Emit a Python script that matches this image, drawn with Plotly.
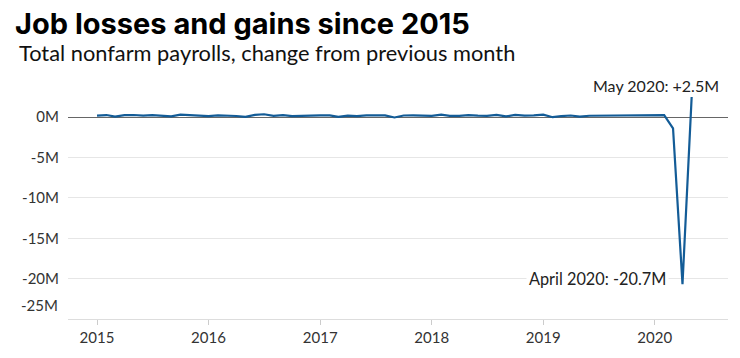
import plotly.graph_objects as go
import pandas as pd

# Monthly change in total nonfarm payrolls (millions), Jan 2015 - May 2020
months = pd.date_range("2015-01-01", "2020-05-01", freq="MS")
change_millions = [
    # 2015
    0.190, 0.271, 0.070, 0.251, 0.273, 0.206, 0.254, 0.157, 0.100, 0.321, 0.272, 0.239,
    # 2016
    0.126, 0.237, 0.225, 0.153, 0.043, 0.297, 0.365, 0.176, 0.249, 0.124, 0.164, 0.155,
    # 2017
    0.216, 0.232, 0.050, 0.207, 0.145, 0.239, 0.190, 0.221, -0.033, 0.211, 0.216, 0.175,
    # 2018
    0.176, 0.324, 0.155, 0.175, 0.268, 0.208, 0.178, 0.286, 0.108, 0.277, 0.196, 0.227,
    # 2019
    0.312, 0.001, 0.147, 0.210, 0.085, 0.182, 0.194, 0.207, 0.208, 0.185, 0.261, 0.184,
    # 2020
    0.214, 0.251, -1.373, -20.687, 2.509,
]

year_ticks = ["2015-01-01", "2016-01-01", "2017-01-01", "2018-01-01", "2019-01-01", "2020-01-01"]
year_labels = ["2015", "2016", "2017", "2018", "2019", "2020"]
y_ticks = [0, -5, -10, -15, -20]
y_labels = ["0M", "-5M", "-10M", "-15M", "-20M"]

title_text = "Job losses and gains since 2015"
subtitle_text = "Total nonfarm payrolls, change from previous month"
may_label = "May 2020: +2.5M"
april_label = "April 2020: -20.7M"

FONT = "Lato, 'Open Sans', sans-serif"
TITLE_FONT = "Inter, Lato, sans-serif"
LINE = "#135c97"

fig = go.Figure()
fig.add_trace(go.Scatter(
    x=months, y=change_millions, mode="lines",
    line=dict(color=LINE, width=2.2), hoverinfo="skip",
))

# page body has an 8px margin, so the figure is sized to fit inside it
OFF = 8
W, H = 740 - OFF, 358 - OFF
L, R, T, B = 68 - OFF, 12, 93 - OFF, 39
pw, ph = W - L - R, H - T - B

fig.update_layout(
    width=W, height=H,
    margin=dict(l=L, r=R, t=T, b=B),
    paper_bgcolor="white", plot_bgcolor="white",
    showlegend=False,
    font=dict(family=FONT, size=15, color="#333"),
    title=dict(
        text="<b>" + title_text + "</b>",
        font=dict(family=TITLE_FONT, size=29, color="#000"),
        xref="container", yref="container",
        x=(15 - OFF) / W, xanchor="left",
        y=1 - (24 - OFF) / H, yanchor="middle",
    ),
)

fig.update_xaxes(
    type="date",
    range=["2014-09-28", "2020-08-28"],
    tickvals=year_ticks, ticktext=year_labels,
    showgrid=False, zeroline=False,
    showline=True, linecolor="#dddddd", linewidth=1,
    ticks="outside", ticklen=5, tickcolor="#cccccc",
    tickfont=dict(size=15, color="#333"),
)
fig.update_yaxes(
    range=[-25, 3],
    tickvals=y_ticks, ticktext=y_labels,
    showgrid=True, gridcolor="#e6e6e6", gridwidth=1,
    zeroline=True, zerolinecolor="#666666", zerolinewidth=1,
    showline=False, ticks="", ticklabelstandoff=8,
    tickfont=dict(size=15, color="#333"),
)

# subtitle
fig.add_annotation(
    xref="paper", yref="paper",
    x=(17 - 68) / pw, y=(319 - 53) / ph,
    text=subtitle_text, showarrow=False,
    xanchor="left", yanchor="middle",
    font=dict(family=FONT, size=21.8, color="#111"),
)
# -25M tick label (sits just above the bottom axis line)
fig.add_annotation(
    xref="paper", yref="y", x=0, y=-25, yshift=14, xshift=-8,
    text="-25M", showarrow=False, xanchor="right", yanchor="middle",
    font=dict(size=15, color="#333"),
)
# data labels
fig.add_annotation(
    x=months[-1], y=change_millions[-1], text=may_label, showarrow=False,
    xanchor="right", yanchor="middle", xshift=29, yshift=11,
    font=dict(size=16, color="#222"),
)
fig.add_annotation(
    x=months[-2], y=-20, text=april_label, showarrow=False,
    xanchor="right", yanchor="middle", xshift=-13,
    bgcolor="white", borderpad=2,
    font=dict(size=16.3, color="#222"),
)

fig.write_html("out.html")
